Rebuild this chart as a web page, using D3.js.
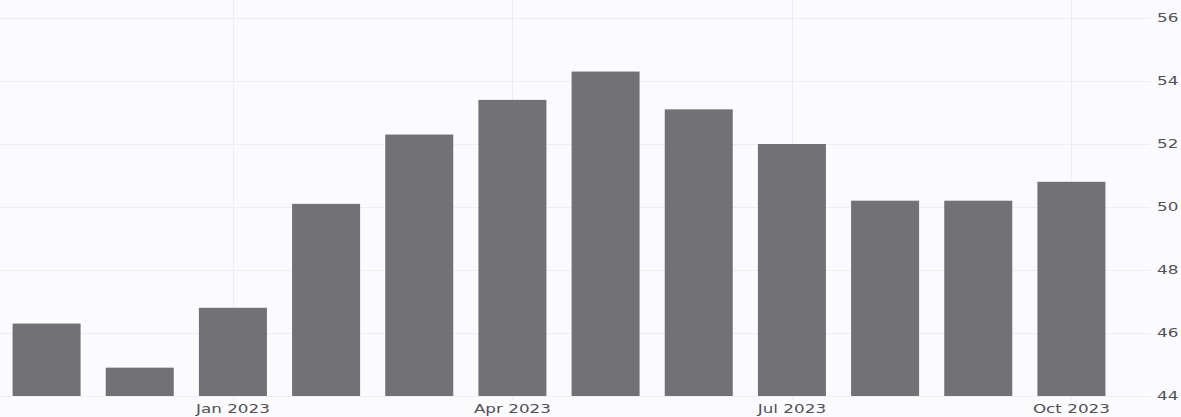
<!DOCTYPE html>
<html>
<head>
<meta charset="utf-8">
<script src="https://cdn.jsdelivr.net/npm/d3@7"></script>
<style>
  html, body { margin: 0; padding: 0; background: #fbfbfd; }
  svg { display: block; }
  text { font-family: "DejaVu Sans", Verdana, sans-serif; fill: #505055; }
</style>
</head>
<body>
<script>
const months = ["Nov 2022","Dec 2022","Jan 2023","Feb 2023","Mar 2023","Apr 2023",
                "May 2023","Jun 2023","Jul 2023","Aug 2023","Sep 2023","Oct 2023"];
const values = [46.3, 44.9, 46.8, 50.1, 52.3, 53.4, 54.3, 53.1, 52.0, 50.2, 50.2, 50.8];
const xTickLabels = ["Jan 2023","Apr 2023","Jul 2023","Oct 2023"];
const yTicks = [44, 46, 48, 50, 52, 54, 56];

const W = 1181, H = 417;
const svg = d3.select("body").append("svg").attr("width", W).attr("height", H);

const x = d3.scaleBand().domain(months).range([0, 1118])
  .paddingInner(0.27).paddingOuter(0.135);
const y = d3.scaleLinear().domain([44, 56]).range([396, 18]);

// horizontal gridlines
svg.append("g").selectAll("line").data(yTicks).join("line")
  .attr("x1", 0).attr("x2", 1150)
  .attr("y1", d => y(d) + 0.5).attr("y2", d => y(d) + 0.5)
  .attr("stroke", "#eceef3").attr("stroke-width", 1);

// vertical gridlines
svg.append("g").selectAll("line").data(xTickLabels).join("line")
  .attr("x1", d => Math.round(x(d) + x.bandwidth() / 2) + 0.5)
  .attr("x2", d => Math.round(x(d) + x.bandwidth() / 2) + 0.5)
  .attr("y1", 0).attr("y2", 400)
  .attr("stroke", "#eceef3").attr("stroke-width", 1);

// bars
svg.append("g").selectAll("rect").data(values).join("rect")
  .attr("x", (d, i) => x(months[i]))
  .attr("width", x.bandwidth())
  .attr("y", d => y(d))
  .attr("height", d => y(44) - y(d))
  .attr("fill", "#717176");

// x axis labels
svg.append("g").selectAll("text").data(xTickLabels).join("text")
  .attr("transform", d => `translate(${x(d) + x.bandwidth() / 2},${413}) scale(1.4,1)`)
  .attr("text-anchor", "middle")
  .attr("font-size", 12)
  .text(d => d);

// y axis labels (right)
svg.append("g").selectAll("text").data(yTicks).join("text")
  .attr("transform", d => `translate(1157,${y(d) + 4}) scale(1.4,1)`)
  .attr("text-anchor", "start")
  .attr("font-size", 12)
  .text(d => d);
</script>
</body>
</html>
